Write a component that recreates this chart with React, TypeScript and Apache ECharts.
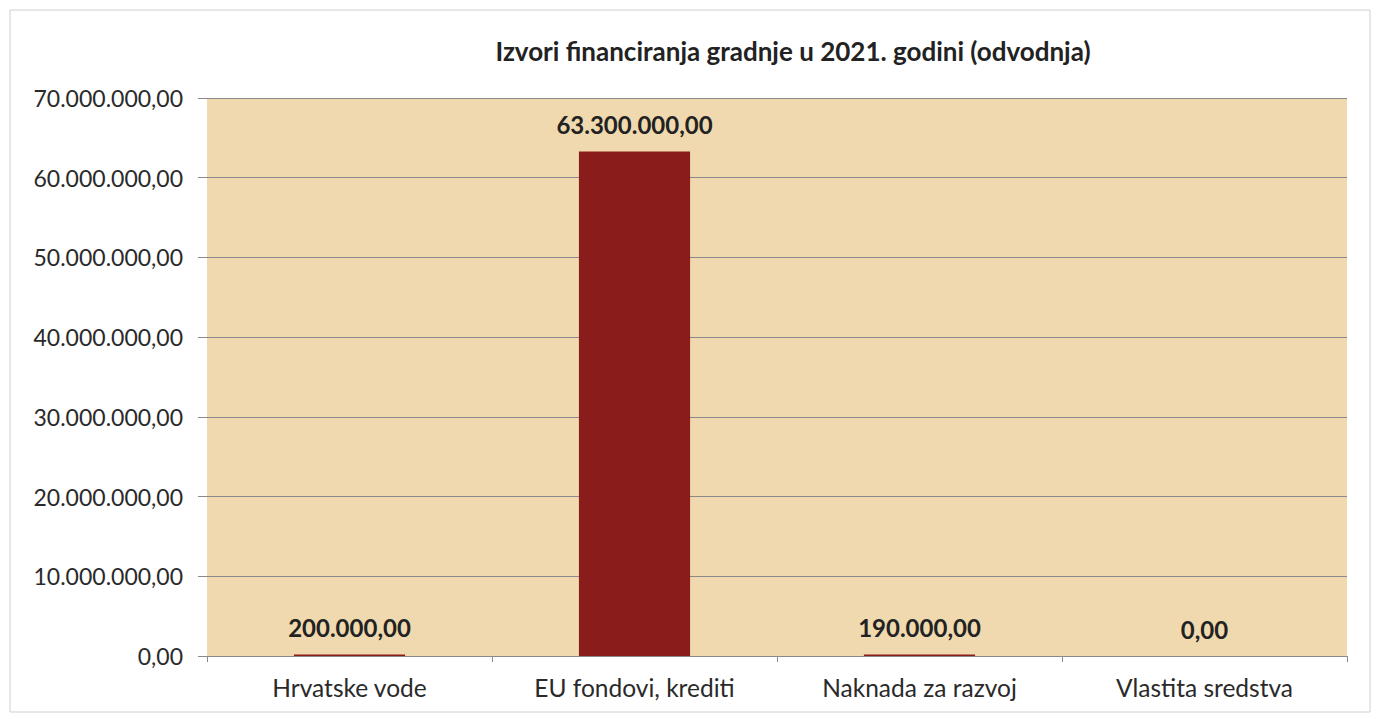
import React, { useEffect, useRef } from "react";
import * as echarts from "echarts";

const categories = ["Hrvatske vode", "EU fondovi, krediti", "Naknada za razvoj", "Vlastita sredstva"];
const values = [200000, 63300000, 190000, 0];
const title = "Izvori financiranja gradnje u 2021. godini (odvodnja)";
const yMin = 0;
const yMax = 70000000;
const yInterval = 10000000;

function fmt(v: number): string {
  const fixed = Math.abs(v).toFixed(2);
  const [intPart, dec] = fixed.split(".");
  const withDots = intPart.replace(/\B(?=(\d{3})+(?!\d))/g, ".");
  return (v < 0 ? "-" : "") + withDots + "," + dec;
}

const FONT = "Lato, 'Open Sans', sans-serif";

export default function App() {
  const ref = useRef<HTMLDivElement>(null);
  useEffect(() => {
    if (!ref.current) return;
    const chart = echarts.init(ref.current, null, { renderer: "svg" });
    chart.setOption({
      animation: false,
      backgroundColor: "#ffffff",
      title: {
        text: title,
        left: 788,
        textAlign: "center",
        top: 33,
        textStyle: { fontFamily: FONT, fontSize: 26, fontWeight: "bold", color: "#222222" },
      },
      graphic: [
        {
          type: "rect",
          shape: { x: 10, y: 10, width: 1360, height: 702 },
          style: { fill: "none", stroke: "#d0d0d0", lineWidth: 1 },
          silent: true,
        },
      ],
      grid: {
        left: 207,
        right: 29,
        top: 98,
        bottom: 63,
        show: true,
        backgroundColor: "#F0D9AE",
        borderWidth: 0,
      },
      xAxis: {
        type: "category",
        data: categories,
        axisLine: { show: true, lineStyle: { color: "#8a8a8a", width: 1 } },
        axisTick: { show: true, length: 6, lineStyle: { color: "#8a8a8a" } },
        axisLabel: { fontFamily: FONT, fontSize: 24.5, color: "#2a2a2a", margin: 19 },
      },
      yAxis: {
        type: "value",
        min: yMin,
        max: yMax,
        interval: yInterval,
        axisLine: { show: false },
        axisTick: { show: true, length: 9, lineStyle: { color: "#8a8a8a" } },
        splitLine: { show: true, lineStyle: { color: "#8a8a8a", width: 1 } },
        axisLabel: {
          fontFamily: FONT,
          fontSize: 23,
          color: "#2a2a2a",
          margin: 24,
          formatter: (v: number) => fmt(v),
        },
      },
      series: [
        {
          type: "bar",
          data: values,
          barWidth: "39%",
          itemStyle: { color: "#8B1C1C" },
          label: {
            show: true,
            position: "top",
            distance: 15,
            fontFamily: FONT,
            fontSize: 24,
            fontWeight: "bold",
            color: "#222222",
            formatter: (p: any) => fmt(p.value),
          },
        },
      ],
    });
    return () => chart.dispose();
  }, []);
  return (
    <div
      ref={ref}
      style={{ position: "fixed", left: 0, top: 0, width: 1376, height: 719 }}
    />
  );
}
